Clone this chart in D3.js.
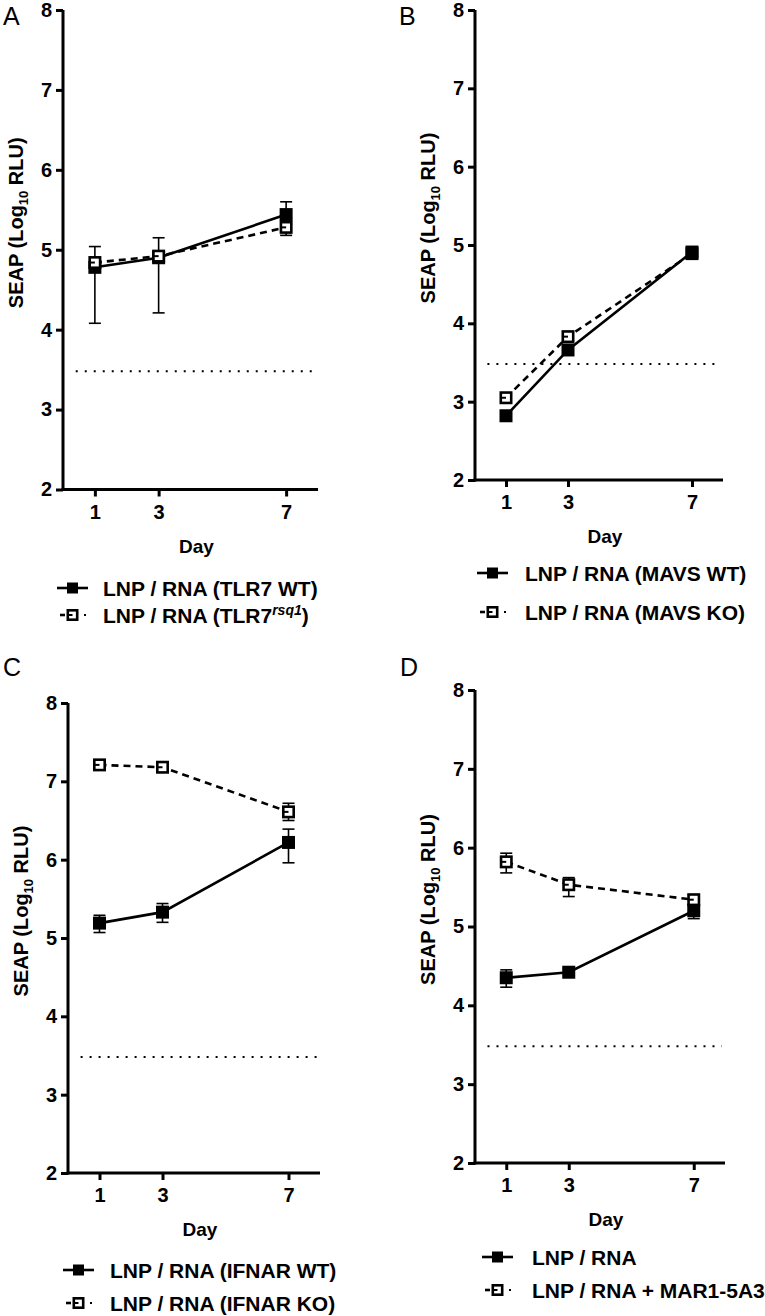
<!DOCTYPE html>
<html lang="en">
<head>
<meta charset="UTF-8" />
<title>SEAP expression over time</title>
<script src="https://cdn.jsdelivr.net/npm/d3@7"></script>
<style>
  body { margin: 0; background: #fff; }
  svg text { font-family: "Liberation Sans", Arial, sans-serif; fill: #000; }
</style>
</head>
<body>
<div id="chart"></div>
<script>
// ---- data ----
const days = [1, 3, 7];
const yTickValues = [2, 3, 4, 5, 6, 7, 8];
const threshold = 3.48;

// A: TLR7
const aWT = [4.78, 4.90, 5.44];
const aWTLow = [4.08, 4.21, 5.40];
const aWTHigh = [4.85, 5.15, 5.60];
const aKO = [4.84, 4.92, 5.28];
const aKOLow = [4.80, 4.85, 5.18];
const aKOHigh = [5.04, 4.98, 5.32];

// B: MAVS
const bWT = [2.82, 3.66, 4.91];
const bWTLow = [2.80, 3.63, 4.88];
const bWTHigh = [2.84, 3.69, 4.94];
const bKO = [3.05, 3.83, 4.89];
const bKOLow = [3.03, 3.80, 4.87];
const bKOHigh = [3.07, 3.86, 4.91];

// C: IFNAR
const cWT = [5.19, 5.33, 6.22];
const cWTLow = [5.07, 5.20, 5.96];
const cWTHigh = [5.29, 5.44, 6.39];
const cKO = [7.21, 7.18, 6.61];
const cKOLow = [7.19, 7.16, 6.50];
const cKOHigh = [7.23, 7.20, 6.72];

// D: MAR1-5A3 blocking
const dWT = [4.35, 4.42, 5.20];
const dWTLow = [4.23, 4.38, 5.10];
const dWTHigh = [4.45, 4.46, 5.28];
const dKO = [5.82, 5.53, 5.34];
const dKOLow = [5.68, 5.38, 5.28];
const dKOHigh = [5.93, 5.62, 5.40];

const legendA = [["LNP / RNA (TLR7 WT)"], ["LNP / RNA (TLR7", "rsq1", ")"]];
const legendB = [["LNP / RNA (MAVS WT)"], ["LNP / RNA (MAVS KO)"]];
const legendC = [["LNP / RNA (IFNAR WT)"], ["LNP / RNA (IFNAR KO)"]];
const legendD = [["LNP / RNA"], ["LNP / RNA + MAR1-5A3"]];

function series(mean, lo, hi) {
  return days.map((d, i) => ({ day: d, v: mean[i], lo: lo[i], hi: hi[i] }));
}

const panels = [
  { letter: "A", lx: 3, ly: 25, left: 63, right: 318, top: 10, bottom: 489.5,
    legY: [588, 615], legX: 57, textX: 103, openOnTop: true,
    wt: series(aWT, aWTLow, aWTHigh), ko: series(aKO, aKOLow, aKOHigh), legend: legendA },
  { letter: "B", lx: 399, ly: 25, left: 475, right: 723, top: 10, bottom: 480,
    legY: [573, 612], legX: 477, textX: 525, openOnTop: false,
    wt: series(bWT, bWTLow, bWTHigh), ko: series(bKO, bKOLow, bKOHigh), legend: legendB },
  { letter: "C", lx: 3, ly: 676, left: 68, right: 320, top: 703, bottom: 1173,
    legY: [1270, 1303], legX: 63, textX: 110, openOnTop: true,
    wt: series(cWT, cWTLow, cWTHigh), ko: series(cKO, cKOLow, cKOHigh), legend: legendC },
  { letter: "D", lx: 400, ly: 676, left: 475, right: 725, top: 690, bottom: 1163,
    legY: [1257, 1290], legX: 482, textX: 532, openOnTop: true,
    wt: series(dWT, dWTLow, dWTHigh), ko: series(dKO, dKOLow, dKOHigh), legend: legendD }
];

const svg = d3.select("#chart").append("svg")
  .attr("width", 765).attr("height", 1316);

const MS = 13; // marker size

function openMarker(g, cx, cy, s) {
  g.append("rect")
    .attr("x", cx - s / 2 + 1.3).attr("y", cy - s / 2 + 1.3)
    .attr("width", s - 2.6).attr("height", s - 2.6)
    .attr("fill", "#fff").attr("stroke", "#000").attr("stroke-width", 2.6);
  g.append("line")
    .attr("x1", cx - s / 2 + 1).attr("x2", cx)
    .attr("y1", cy).attr("y2", cy)
    .attr("stroke", "#000").attr("stroke-width", 2);
}
function filledMarker(g, cx, cy, s) {
  g.append("rect")
    .attr("x", cx - s / 2).attr("y", cy - s / 2)
    .attr("width", s).attr("height", s).attr("fill", "#000");
}

panels.forEach(p => {
  const g = svg.append("g");
  const x = d3.scaleLinear().domain([0, 8]).range([p.left, p.right]);
  const y = d3.scaleLinear().domain([2, 8]).range([p.bottom, p.top]);

  g.append("text").attr("x", p.lx).attr("y", p.ly)
    .attr("font-size", 25).text(p.letter);

  // y axis
  const ya = g.append("g").attr("transform", `translate(${p.left},0)`)
    .call(d3.axisLeft(y).tickValues(yTickValues).tickFormat(d3.format("d"))
      .tickSizeOuter(0).tickSize(7).tickPadding(4));
  // x axis
  const xa = g.append("g").attr("transform", `translate(0,${p.bottom})`)
    .call(d3.axisBottom(x).tickValues(days).tickFormat(d3.format("d"))
      .tickSizeOuter(0).tickSize(7).tickPadding(8));
  [ya, xa].forEach(a => {
    a.select(".domain").attr("stroke-width", 3);
    a.selectAll(".tick line").attr("stroke-width", 3);
    a.selectAll("text").attr("font-size", 20).attr("font-weight", "bold");
  });
  ya.select(".domain").attr("d", `M0,${p.top}V${p.bottom + 1.5}`);
  xa.select(".domain").attr("d", `M${p.left - 1.5},0H${p.right}`);

  // axis titles
  g.append("text")
    .attr("x", (p.left + p.right) / 2 + 6).attr("y", p.bottom + 63)
    .attr("text-anchor", "middle").attr("font-size", 19).attr("font-weight", "bold")
    .text("Day");
  const yl = g.append("text")
    .attr("transform", `translate(${p.left - 40},${(p.top + p.bottom) / 2 - 27}) rotate(-90)`)
    .attr("text-anchor", "middle").attr("font-size", 20).attr("font-weight", "bold");
  yl.append("tspan").text("SEAP (Log");
  yl.append("tspan").attr("font-size", 13).attr("dy", 5).text("10");
  yl.append("tspan").attr("dy", -5).text(" RLU)");

  // detection limit
  g.append("line")
    .attr("x1", x(0.4)).attr("x2", x(7.9))
    .attr("y1", y(threshold)).attr("y2", y(threshold))
    .attr("stroke", "#000").attr("stroke-width", 2)
    .attr("stroke-dasharray", "2,7");

  const line = d3.line().x(d => x(d.day)).y(d => y(d.v));

  const drawSeries = (data, open) => {
    const sg = g.append("g");
    sg.append("path").datum(data).attr("d", line)
      .attr("fill", "none").attr("stroke", "#000").attr("stroke-width", 2.6)
      .attr("stroke-dasharray", open ? "7,5" : null);
    data.forEach(d => {
      const cx = x(d.day);
      sg.append("line").attr("x1", cx).attr("x2", cx)
        .attr("y1", y(d.lo)).attr("y2", y(d.hi))
        .attr("stroke", "#000").attr("stroke-width", 1.6);
      [d.lo, d.hi].forEach(v => {
        sg.append("line").attr("x1", cx - 6).attr("x2", cx + 6)
          .attr("y1", y(v)).attr("y2", y(v))
          .attr("stroke", "#000").attr("stroke-width", 1.6);
      });
    });
    data.forEach(d => {
      if (open) openMarker(sg, x(d.day), y(d.v), MS);
      else filledMarker(sg, x(d.day), y(d.v), MS);
    });
  };
  if (p.openOnTop) { drawSeries(p.wt, false); drawSeries(p.ko, true); }
  else { drawSeries(p.ko, true); drawSeries(p.wt, false); }

  // legend
  const lg = g.append("g");
  const l0 = p.legX, l1 = p.legX + 31, lc = p.legX + 15.5;
  lg.append("line").attr("x1", l0).attr("x2", l1)
    .attr("y1", p.legY[0]).attr("y2", p.legY[0])
    .attr("stroke", "#000").attr("stroke-width", 2.6);
  filledMarker(lg, lc, p.legY[0], 11);
  lg.append("line").attr("x1", l0 + 3).attr("x2", l0 + 8)
    .attr("y1", p.legY[1]).attr("y2", p.legY[1])
    .attr("stroke", "#000").attr("stroke-width", 2.6);
  openMarker(lg, lc, p.legY[1], 12);
  lg.append("rect").attr("x", l0 + 27).attr("y", p.legY[1] - 1)
    .attr("width", 2).attr("height", 2).attr("fill", "#000");

  p.legend.forEach((parts, i) => {
    const t = lg.append("text").attr("x", p.textX).attr("y", p.legY[i] + 7.5)
      .attr("font-size", 21).attr("font-weight", "bold");
    t.append("tspan").text(parts[0]);
    if (parts.length > 1) {
      t.append("tspan").attr("font-size", 14).attr("font-style", "italic")
        .attr("dy", -8).text(parts[1]);
      t.append("tspan").attr("dy", 8).text(parts[2]);
    }
  });
});
</script>
</body>
</html>
